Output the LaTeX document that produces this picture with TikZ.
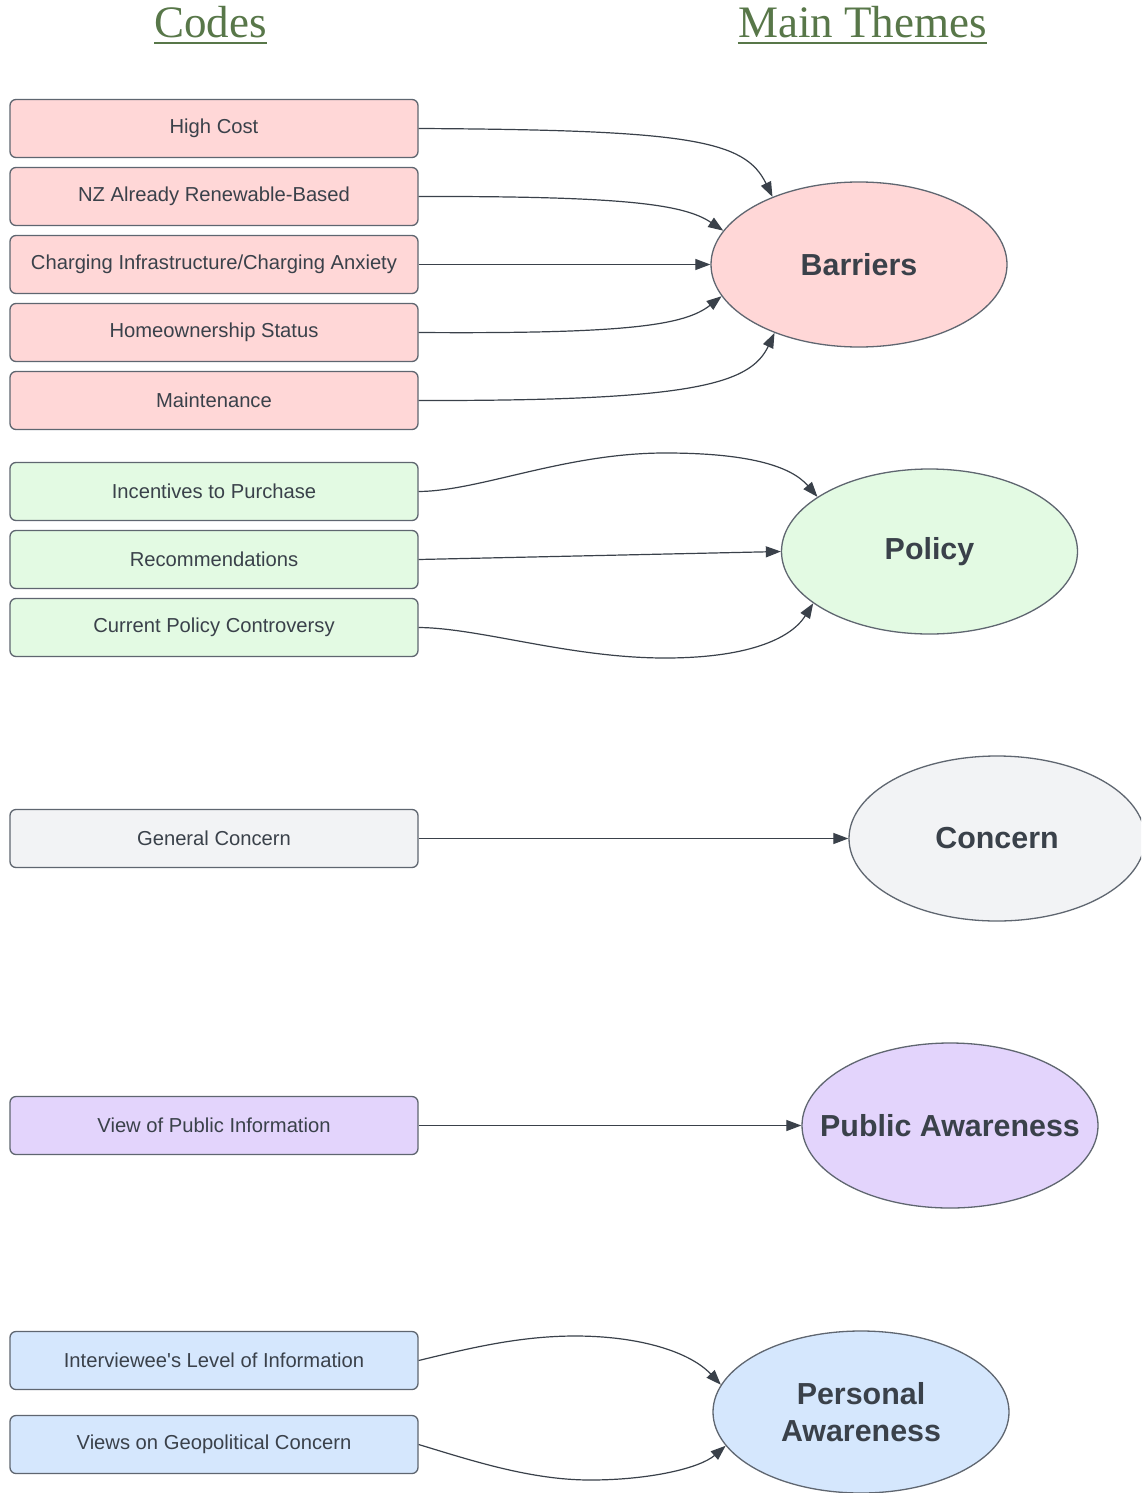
\documentclass[tikz,border=0pt]{standalone}
\usepackage{fontspec}
\setmainfont{Liberation Sans}
\newfontfamily\titlefont{Liberation Serif}
\usetikzlibrary{shapes.geometric,arrows.meta}
\definecolor{txt}{HTML}{3A414A}
\definecolor{edge}{HTML}{5F6670}
\definecolor{ttl}{HTML}{587749}
\definecolor{fpink}{HTML}{FFD7D7}
\definecolor{fgreen}{HTML}{E3FAE3}
\definecolor{fgray}{HTML}{F2F3F5}
\definecolor{fpurple}{HTML}{E3D4FC}
\definecolor{fblue}{HTML}{D5E7FD}
\tikzset{
  codebox/.style={draw=edge, line width=1.3pt, rounded corners=6pt, minimum width=408pt, minimum height=58pt, inner sep=0pt, text=txt, font=\fontsize{20.2}{24}\selectfont},
  theme/.style={ellipse, draw=edge, line width=1.3pt, minimum width=296pt, minimum height=165pt, inner sep=0pt, text=txt, align=center, font=\fontsize{30.4}{37}\selectfont\bfseries},
  heading/.style={inner sep=0pt, anchor=base, text=ttl, font=\titlefont\fontsize{45}{50}\selectfont},
  conn/.style={draw=txt, line width=1.2pt, -{Triangle[length=15pt,width=11pt]}},
}
\begin{document}
\begin{tikzpicture}[x=1pt,y=-1pt]
\clip (0,0) rectangle (1141,1493);
\fill[white] (0,0) rectangle (1141,1493);
% headings
\node[heading] (hcodes) at (210.5,38) {Codes};
\node[heading] (hthemes) at (862.5,38) {Main Themes};
\draw[ttl, line width=2.6pt] ([yshift=-5pt]hcodes.base west) -- ([yshift=-5pt]hcodes.base east);
\draw[ttl, line width=2.6pt] ([yshift=-5pt]hthemes.base west) -- ([yshift=-5pt]hthemes.base east);
% codes
\node[codebox, fill=fpink] (c1) at (214,128.5) {High Cost};
\node[codebox, fill=fpink] (c2) at (214,196.5) {NZ Already Renewable-Based};
\node[codebox, fill=fpink] (c3) at (214,264.5) {Charging Infrastructure/Charging Anxiety};
\node[codebox, fill=fpink] (c4) at (214,332.5) {Homeownership Status};
\node[codebox, fill=fpink] (c5) at (214,400.5) {Maintenance};
\node[codebox, fill=fgreen] (c6) at (214,491.5) {Incentives to Purchase};
\node[codebox, fill=fgreen] (c7) at (214,559.5) {Recommendations};
\node[codebox, fill=fgreen] (c8) at (214,627.5) {Current Policy Controversy};
\node[codebox, fill=fgray] (c9) at (214,838.5) {General Concern};
\node[codebox, fill=fpurple] (c10) at (214,1125.5) {View of Public Information};
\node[codebox, fill=fblue] (c11) at (214,1360.5) {Interviewee\textquotesingle s Level of Information};
\node[codebox, fill=fblue] (c12) at (214,1444.5) {Views on Geopolitical Concern};
% themes
\node[theme, fill=fpink] (bar) at (859,264.5) {\makebox[0pt]{Barriers}};
\node[theme, fill=fgreen] (pol) at (929.5,551.5) {\makebox[0pt]{Policy}};
\node[theme, fill=fgray] (con) at (997,838.5) {\makebox[0pt]{Concern}};
\node[theme, fill=fpurple] (pub) at (950,1125.5) {\makebox[0pt]{Public Awareness}};
\node[theme, fill=fblue, minimum height=162pt] (per) at (861,1412) {\makebox[0pt]{Personal}\\\makebox[0pt]{Awareness}};
% connectors
\draw[conn] (c1.east) .. controls (690,130) and (745,140) .. (bar.142);
\draw[conn] (c2.east) .. controls (630,196) and (685,205) .. (bar.166.4);
\draw[conn] (c3.east) -- (bar.west);
\draw[conn] (c4.east) .. controls (630,334) and (685,325) .. (bar.193.6);
\draw[conn] (c5.east) .. controls (690,401) and (750,385) .. (bar.219.8);
\draw[conn] (c6.east) .. controls (480,491) and (565,453) .. (665,453) .. controls (745,453) and (790,465) .. (pol.154.9);
\draw[conn] (c7.east) -- (pol.west);
\draw[conn] (c8.east) .. controls (480,628) and (570,658) .. (665,658) .. controls (745,658) and (790,640) .. (pol.204.4);
\draw[conn] (c9.east) -- (con.west);
\draw[conn] (c10.east) -- (pub.west);
\draw[conn] (c11.east) .. controls (470,1348) and (520,1336) .. (575,1336) .. controls (640,1336) and (690,1352) .. (per.169);
\draw[conn] (c12.east) .. controls (470,1460) and (530,1480) .. (590,1480) .. controls (650,1480) and (700,1468) .. (per.194.1);
\end{tikzpicture}
\end{document}
